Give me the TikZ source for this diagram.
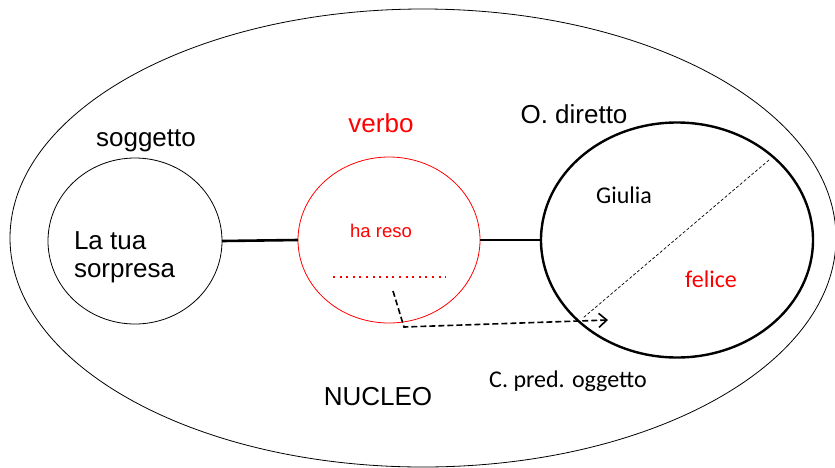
\documentclass[tikz,border=0pt]{standalone}
\usepackage{fontspec}
\setmainfont{Liberation Sans}
\newfontfamily\calibri{Carlito}
\usetikzlibrary{shapes.geometric,arrows.meta}

\begin{document}
\begin{tikzpicture}[
    x=1pt, y=-1pt,
    every node/.style={inner sep=0pt, outer sep=0pt},
    blob/.style={ellipse, draw, line width=0.8pt},
    txt/.style={anchor=base, font=\fontsize{26}{28}\selectfont},
    ctxt/.style={anchor=base, font=\calibri\fontsize{24}{28}\selectfont},
    link/.style={line width=2.6pt}
  ]
  \useasboundingbox (0,0) rectangle (835,467);
  \clip (0,0) rectangle (835,467);

  % the nucleus and its three parts
  \node[blob, minimum width=826pt, minimum height=458pt] (nucleo) at (423,238) {};
  \node[blob, minimum width=174pt, minimum height=166pt] (sogg) at (135,241) {};
  \node[blob, draw=red, minimum width=182pt, minimum height=166pt] (verb) at (389,240) {};
  \node[blob, line width=2.4pt, minimum width=272pt, minimum height=235pt] (odir) at (677,240) {};

  \draw[link] (sogg.east) -- (verb.west);
  \draw[link] (verb.east) -- (odir.west);

  \node[txt] (soggetto) at (146,146) {soggetto};
  \node[txt, text=red] (verbo) at (381,132) {verbo};
  \node[txt] (odiretto) at (574,123) {O. diretto};
  \node[txt, anchor=base west, align=left] (latua) at (74,277) {La tua\\sorpresa};
  \node[txt, text=red, font=\fontsize{18.5}{20}\selectfont] (hareso) at (381,237) {ha reso};
  \node[ctxt] (giulia) at (624,203) {Giulia};
  \node[ctxt, text=red] (felice) at (711,287) {felice};
  \node[ctxt] (cpred) at (568,387) {C. pred. oggetto};
  \node[txt] (nucleotxt) at (378,405) {NUCLEO};

  % the empty place of the verb and where it points
  \coordinate (gapL) at (333,277);
  \coordinate (gapR) at (446,277);
  \draw[red, line width=2pt, dash pattern=on 2pt off 4.6pt] (gapL) -- (gapR);

  \coordinate (from) at (393,291);
  \coordinate (bend) at (404,327);
  \coordinate (to) at (608,320);
  \draw[line width=1.6pt, dash pattern=on 6pt off 3pt, -{Straight Barb[length=8pt, width=14pt]}] (from) -- (bend) -- (to);

  \coordinate (cutA) at (769,160);
  \coordinate (cutB) at (583,318);
  \draw[line width=0.7pt, dash pattern=on 3pt off 2pt] (cutA) -- (cutB);
\end{tikzpicture}
\end{document}
